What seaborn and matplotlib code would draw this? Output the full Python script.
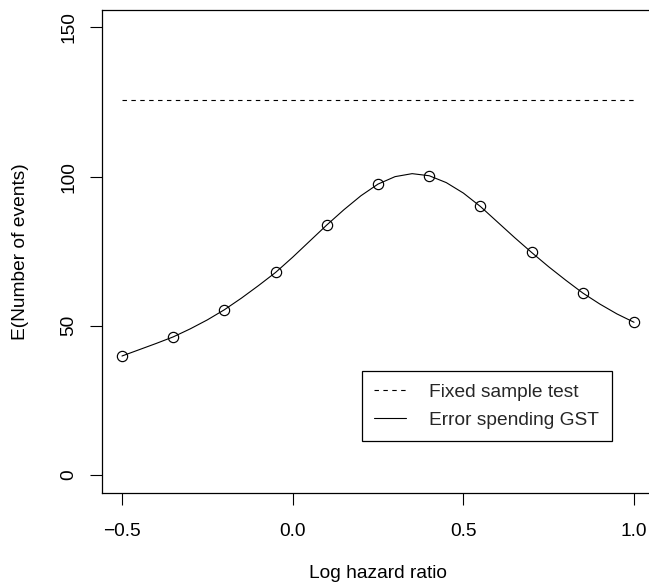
import matplotlib
matplotlib.use("Agg")
import matplotlib.pyplot as plt
import seaborn as sns
import pandas as pd

# ---- data ----
curve_x = [-0.50, -0.45, -0.40, -0.35, -0.30, -0.25, -0.20, -0.15, -0.10, -0.05,
           0.00, 0.05, 0.10, 0.15, 0.20, 0.25, 0.30, 0.35, 0.40, 0.45,
           0.50, 0.55, 0.60, 0.65, 0.70, 0.75, 0.80, 0.85, 0.90, 0.95, 1.00]
curve_y = [39.9, 42.0, 44.1, 46.3, 49.0, 52.0, 55.4, 59.3, 63.5, 67.9,
           73.0, 78.4, 83.8, 88.9, 93.6, 97.5, 100.0, 101.0, 100.3, 98.0,
           94.5, 90.0, 84.8, 79.6, 74.6, 69.8, 65.3, 61.0, 57.3, 54.0, 51.2]
marker_x = [-0.50, -0.35, -0.20, -0.05, 0.10, 0.25, 0.40, 0.55, 0.70, 0.85, 1.00]
marker_y = [39.9, 46.3, 55.4, 67.9, 83.8, 97.5, 100.3, 90.0, 74.6, 61.0, 51.2]
fixed_x = [-0.5, 1.0]
fixed_y = [125.8, 125.8]
x_ticks = [-0.5, 0.0, 0.5, 1.0]
x_tick_labels = ["\u22120.5", "0.0", "0.5", "1.0"]
y_ticks = [0, 50, 100, 150]
y_tick_labels = ["0", "50", "100", "150"]
legend_labels = ["Fixed sample test", "Error spending GST"]

sns.set_style("ticks")
plt.rcParams["font.family"] = ["Liberation Sans", "DejaVu Sans"]
FS = 13.8

W, H = 649, 586
fig = plt.figure(figsize=(W / 100, H / 100), dpi=100)
L, R, T, B = 101.5, 654.5, 9.5, 493.0
ax = fig.add_axes([L / W, (H - B) / H, (R - L) / W, (B - T) / H])

curve_df = pd.DataFrame({"x": curve_x, "y": curve_y})
marker_df = pd.DataFrame({"x": marker_x, "y": marker_y})
fixed_df = pd.DataFrame({"x": fixed_x, "y": fixed_y})

sns.lineplot(data=fixed_df, x="x", y="y", ax=ax, color="black", linewidth=0.8,
             estimator=None, sort=False)
sns.lineplot(data=curve_df, x="x", y="y", ax=ax, color="black", linewidth=0.8,
             estimator=None, sort=False)
fixed_line, curve_line = ax.get_lines()[0], ax.get_lines()[1]
fixed_line.set_dashes((4, 4))
ax.plot(marker_df["x"], marker_df["y"], linestyle="none", marker="o",
        markersize=7.4, markerfacecolor="none", markeredgecolor="black",
        markeredgewidth=0.85)

ax.set_xlim(-0.56, 1.06)
ax.set_ylim(-6, 156)
ax.set_xticks(x_ticks)
ax.set_xticklabels(x_tick_labels)
ax.set_yticks(y_ticks)
ax.set_yticklabels(y_tick_labels, rotation=90, va="center")
ax.tick_params(axis="both", direction="out", length=8.6, width=0.8,
               color="black", labelsize=FS, labelcolor="black")
ax.tick_params(axis="x", pad=13)
ax.tick_params(axis="y", pad=9)
for name, s in ax.spines.items():
    s.set_visible(name != "right")
    s.set_color("black")
    s.set_linewidth(0.9)

ax.set_xlabel("Log hazard ratio", fontsize=FS, color="black")
ax.xaxis.label.set_verticalalignment("center")
ax.xaxis.set_label_coords((378 - L) / (R - L), (B - 574) / (B - T))
ax.set_ylabel("E(Number of events)", fontsize=FS, color="black")
ax.yaxis.label.set_verticalalignment("center")
ax.yaxis.label.set_horizontalalignment("center")
ax.yaxis.set_label_coords((21 - L) / (R - L), 0.5)

leg = ax.legend([fixed_line, curve_line], legend_labels,
                loc="upper left",
                bbox_to_anchor=((362 - L) / (R - L), (B - 371) / (B - T)),
                borderaxespad=0, frameon=True, fancybox=False, shadow=False,
                fontsize=FS, handlelength=32 / 19.2, handletextpad=23 / 19.2,
                borderpad=0.65, labelspacing=0.55)
leg.get_frame().set_edgecolor("black")
leg.get_frame().set_linewidth(0.9)
leg.get_frame().set_alpha(1)

fig.savefig("out.png", dpi=100)
